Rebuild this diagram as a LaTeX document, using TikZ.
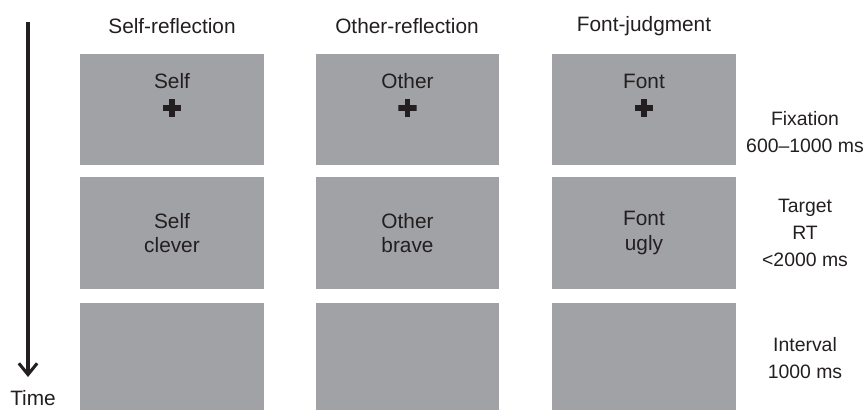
\documentclass[tikz,border=0pt]{standalone}
\usepackage{fontspec}
\setmainfont{Liberation Sans}
\usepackage{tikz}
\usetikzlibrary{arrows.meta,positioning}
\definecolor{panelgray}{RGB}{160,162,165}
\definecolor{inktext}{RGB}{35,31,32}

\begin{document}
\begin{tikzpicture}[x=0.025cm, y=-0.025cm,
        panel/.style={rectangle, fill=panelgray, inner sep=0pt,
                      minimum width=4.575cm, minimum height=2.775cm,
                      align=center, text=inktext,
                      font=\fontsize{14.8}{17.5}\selectfont},
        lastpanel/.style={panel, minimum height=2.675cm},
        cue/.style={text=inktext, inner sep=0pt,
                    font=\fontsize{14.8}{17.5}\selectfont},
        head/.style={text=inktext, font=\fontsize{14.8}{17.5}\selectfont},
        phase/.style={text=inktext, align=center,
                      font=\fontsize{13.8}{19}\selectfont},
        cross/.style={minimum size=13pt, inner sep=0pt,
                      path picture={
                        \fill[inktext] ([xshift=-6.5pt,yshift=-2pt]path picture bounding box.center)
                            rectangle ([xshift=6.5pt,yshift=2pt]path picture bounding box.center);
                        \fill[inktext] ([xshift=-2pt,yshift=-6.5pt]path picture bounding box.center)
                            rectangle ([xshift=2pt,yshift=6.5pt]path picture bounding box.center);}},
        timearrow/.style={-{Straight Barb[length=8pt,width=13pt,line width=2.2pt]},
                          line width=2.2pt, draw=inktext}]

        \useasboundingbox (0,0) rectangle (865,410);

        % column headings
        \node[head] (hself) at (172,26) {Self-reflection};
        \node[head] (hother) at (407,26) {Other-reflection};
        \node[head] (hfont) at (644,26) {Font-judgment};

        % fixation row
        \node[panel] (sfix) at (172,109.5) {};
        \node[panel] (ofix) at (407.5,109.5) {};
        \node[panel] (ffix) at (644,109.5) {};
        \node[cue] (sfixcue) at (172,81) {Self};
        \node[cue] (ofixcue) at (407.5,81) {Other};
        \node[cue] (ffixcue) at (644,81) {Font};
        \node[cross] (sfixx) at (172,108) {};
        \node[cross] (ofixx) at (407.5,108) {};
        \node[cross] (ffixx) at (644,108) {};

        % target row
        \node[panel] (stgt) at (172,233) {Self\\clever};
        \node[panel] (otgt) at (407.5,233) {Other\\brave};
        \node[panel] (ftgt) at (644,233) {Font\\ugly};

        % interval row
        \node[lastpanel] (sint) at (172,356.5) {};
        \node[lastpanel] (oint) at (407.5,356.5) {};
        \node[lastpanel] (fint) at (644,356.5) {};

        % phase labels on the right
        \node[phase] (pfix) at (805,132) {Fixation\\600--1000 ms};
        \node[phase] (ptgt) at (805,233) {Target\\RT\\<2000 ms};
        \node[phase] (pint) at (805,358) {Interval\\1000 ms};

        % time axis
        \coordinate (tstart) at (28,22);
        \coordinate (tend) at (28,377);
        \draw[timearrow] (tstart) -- (tend);
        \node[head] (time) at (33,398) {Time};

\end{tikzpicture}
\end{document}
